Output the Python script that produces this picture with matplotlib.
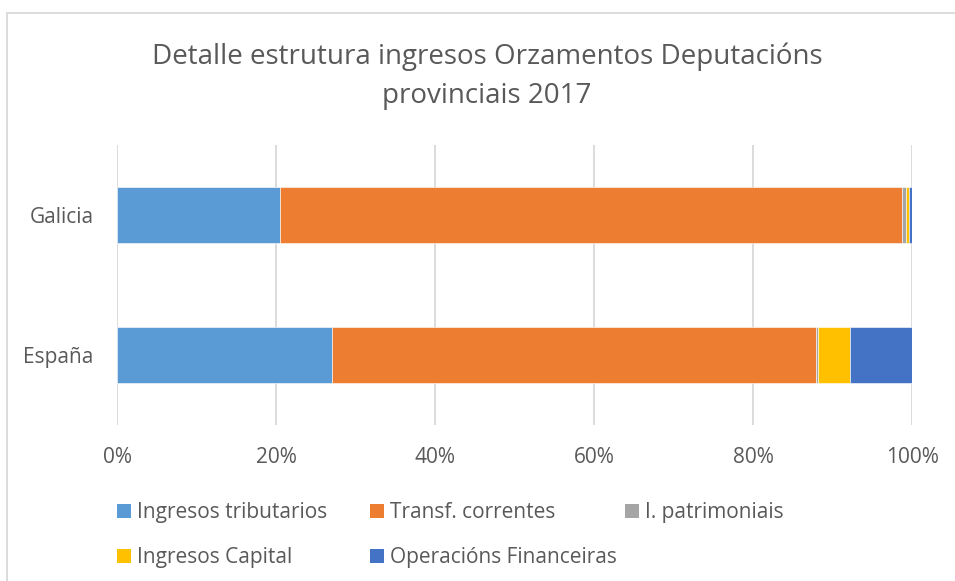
import matplotlib
matplotlib.use("Agg")
import matplotlib.pyplot as plt
from matplotlib.patches import Rectangle, Patch
import numpy as np

categories = ["España", "Galicia"]
series_names = ["Ingresos tributarios", "Transf. correntes", "I. patrimoniais",
                "Ingresos Capital", "Operacións Financeiras"]
ingresos_tributarios = [27.0, 20.5]
transf_correntes = [60.9, 78.3]
i_patrimoniais = [0.3, 0.4]
ingresos_capital = [4.0, 0.4]
operacions_financeiras = [7.8, 0.4]
series_values = [ingresos_tributarios, transf_correntes, i_patrimoniais,
                 ingresos_capital, operacions_financeiras]
colors = ["#5B9BD5", "#ED7D31", "#A5A5A5", "#FFC000", "#4472C4"]
xticks = [0, 20, 40, 60, 80, 100]
xtick_labels = ["0%", "20%", "40%", "60%", "80%", "100%"]
title = "Detalle estrutura ingresos Orzamentos Deputacións\nprovinciais 2017"

TEXT = "#595959"
GRID = "#D9D9D9"
W, H = 955, 581

fig = plt.figure(figsize=(W / 100, H / 100), dpi=100)
fig.patch.set_facecolor("white")
ax = fig.add_axes([117 / W, (H - 425) / H, (912 - 117) / W, (425 - 145) / H])

# shares normalised to 100%
vals = np.array(series_values, dtype=float)
vals = vals / vals.sum(axis=0) * 100
y = np.arange(len(categories))
left = np.zeros(len(categories))
for name, v, c in zip(series_names, vals, colors):
    ax.barh(y, v, left=left, height=0.4, color=c, edgecolor="white",
            linewidth=0.4, label=name, zorder=3)
    left += v

ax.set_xlim(0, 100)
ax.set_ylim(-0.5, 1.5)
ax.set_xticks(xticks)
ax.set_xticklabels(xtick_labels)
ax.set_yticks(y)
ax.set_yticklabels(categories)
for s in ax.spines.values():
    s.set_visible(False)
ax.grid(axis="x", color=GRID, linewidth=1.3, zorder=0)
ax.tick_params(axis="both", length=0, labelcolor=TEXT, labelsize=15)
ax.tick_params(axis="x", pad=16)
ax.tick_params(axis="y", pad=17)
for lab in ax.get_xticklabels() + ax.get_yticklabels():
    lab.set_fontfamily("Open Sans")

fig.text(487 / W, (H - 76) / H, title, ha="center", va="center",
         fontsize=20, color=TEXT, family="Open Sans", linespacing=1.5)

# legend, laid out in fixed columns like the original
handles = [Patch(facecolor=c, edgecolor="none") for c in colors]
cols = [([0, 3], 117), ([1, 4], 370), ([2], 625)]
for idx, xpx in cols:
    leg = fig.legend([handles[i] for i in idx], [series_names[i] for i in idx],
                     loc="upper left", bbox_to_anchor=(xpx / W, (H - 502) / H),
                     frameon=False, handlelength=0.67, handleheight=0.67,
                     handletextpad=0.27, labelspacing=1.15, borderpad=0,
                     borderaxespad=0, prop={"family": "Open Sans", "size": 15},
                     labelcolor=TEXT)

# outer chart frame
fig.patches.append(Rectangle((7 / W, -0.1), 1.2, (H - 13) / H + 0.1,
                             transform=fig.transFigure, fill=False,
                             edgecolor=GRID, linewidth=1.3))

fig.savefig("out.png", dpi=100)
